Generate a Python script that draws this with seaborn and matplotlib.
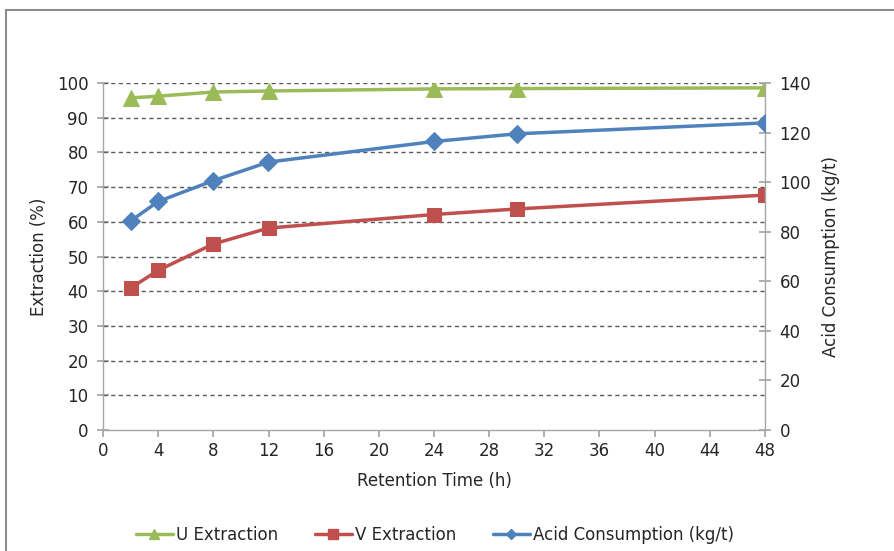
import matplotlib
matplotlib.use("Agg")
import matplotlib.pyplot as plt
import seaborn as sns
import pandas as pd
from matplotlib.patches import Rectangle
from matplotlib.lines import Line2D

hours = [2, 4, 8, 12, 24, 30, 48]
u_extraction = [95.7, 96.2, 97.4, 97.7, 98.3, 98.4, 98.6]
v_extraction = [40.9, 46.0, 53.6, 58.2, 62.1, 63.7, 67.7]
acid_consumption = [84.3, 92.2, 100.6, 108.1, 116.4, 119.5, 123.9]

x_ticks = list(range(0, 49, 4))
left_ticks = list(range(0, 101, 10))
right_ticks = list(range(0, 141, 20))

green = "#9BBB59"
red = "#C0504D"
blue = "#4F81BD"
axis_gray = "#A6A6A6"
text_color = "#262626"

sns.set_theme(style="white")
plt.rcParams["font.family"] = ["DejaVu Sans"]

df = pd.DataFrame({"h": hours, "U": u_extraction, "V": v_extraction, "A": acid_consumption})

fig = plt.figure(figsize=(8.94, 5.51), dpi=100)
ax = fig.add_axes([103/894, 1 - 430/551, (765-103)/894, (430-83)/551])
ax2 = ax.twinx()

sns.lineplot(data=df, x="h", y="U", ax=ax, color=green, marker="^", markersize=11,
             linewidth=2.5, markeredgecolor=green, zorder=5)
sns.lineplot(data=df, x="h", y="V", ax=ax, color=red, marker="s", markersize=10,
             linewidth=2.5, markeredgecolor=red, zorder=5)
sns.lineplot(data=df, x="h", y="A", ax=ax2, color=blue, marker="D", markersize=9,
             linewidth=2.5, markeredgecolor=blue, zorder=5)

ax.set_xlim(0, 48)
ax.set_ylim(0, 100)
ax2.set_ylim(0, 140)
ax.set_xticks(x_ticks)
ax.set_yticks(left_ticks)
ax2.set_yticks(right_ticks)
ax.set_xticklabels([str(t) for t in x_ticks])
ax.set_yticklabels([str(t) for t in left_ticks])
ax2.set_yticklabels([str(t) for t in right_ticks])

for t in left_ticks[1:]:
    ax.axhline(t, color="#595959", linestyle=(0, (3, 2.5)), linewidth=1.0, zorder=1)

for a in (ax, ax2):
    a.set_facecolor("none")
    for s in a.spines.values():
        s.set_color(axis_gray)
        s.set_linewidth(1.0)
    a.spines["top"].set_visible(False)

ax.spines["right"].set_visible(False)
ax2.spines["left"].set_visible(False)
ax2.spines["bottom"].set_visible(False)

ax.tick_params(axis="x", direction="out", length=5, color=axis_gray, labelsize=12,
               labelcolor=text_color, pad=4, bottom=True)
ax.tick_params(axis="y", direction="inout", length=9, color=axis_gray, labelsize=12,
               labelcolor=text_color, pad=6, left=True)
ax2.tick_params(axis="y", direction="inout", length=9, color=axis_gray, labelsize=12,
                labelcolor=text_color, pad=6, right=True)

ax.set_xlabel("Retention Time (h)", fontsize=12, color=text_color, labelpad=8)
ax.set_ylabel("Extraction (%)", fontsize=12, color=text_color, labelpad=6)
ax2.set_ylabel("Acid Consumption (kg/t)", fontsize=12, color=text_color, labelpad=8)

handles = [
    Line2D([0], [0], color=green, marker="^", markersize=7, linewidth=2.5),
    Line2D([0], [0], color=red, marker="s", markersize=7, linewidth=2.5),
    Line2D([0], [0], color=blue, marker="D", markersize=5, linewidth=2.5),
]
labels = ["U Extraction", "V Extraction", "Acid Consumption (kg/t)"]
fig.legend(handles, labels, loc="center", bbox_to_anchor=(435/894, 1 - 535/551), ncol=3,
           frameon=False, fontsize=12, handlelength=2.2, handletextpad=0.2, columnspacing=2.2,
           labelcolor=text_color)

fig.patches.append(Rectangle((6/894, -0.1), 1.2, 1 - 10/551 + 0.1, transform=fig.transFigure,
                             fill=False, edgecolor="#8C8C8C", linewidth=1.5))

fig.savefig("out.png", dpi=100)
